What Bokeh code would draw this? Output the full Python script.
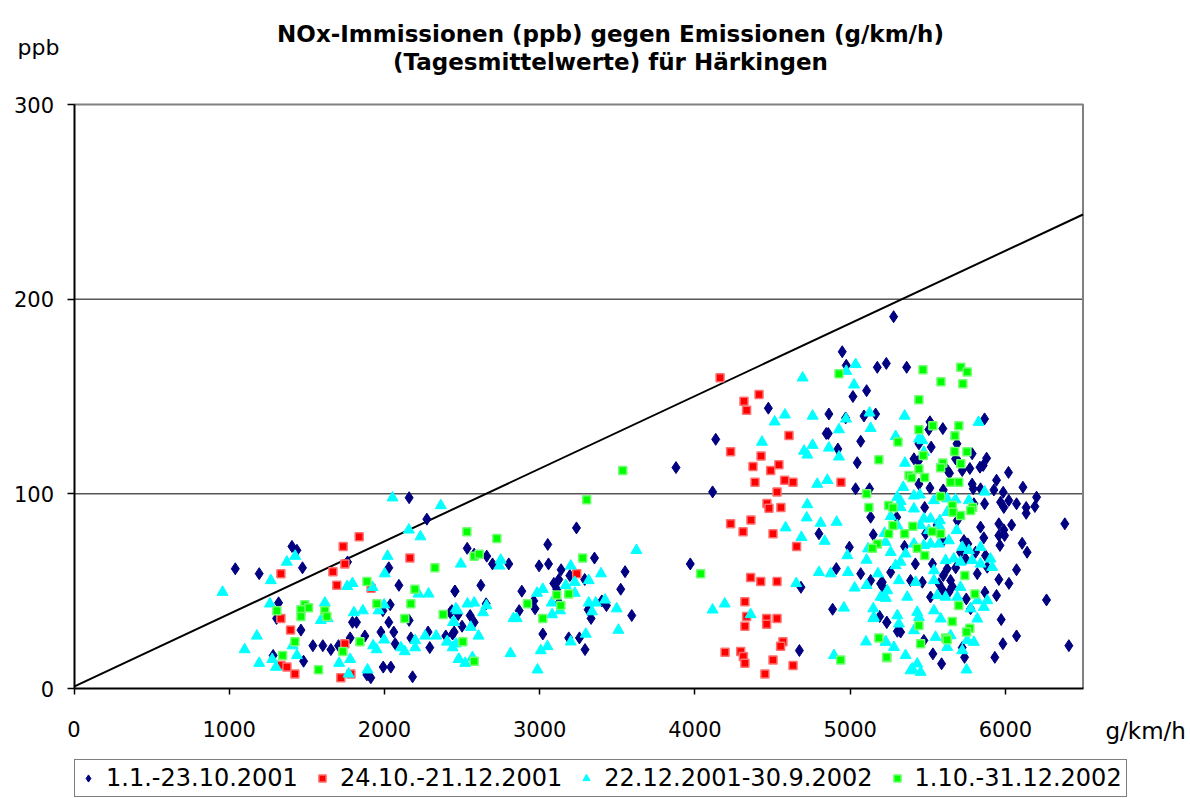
from bokeh.plotting import figure
from bokeh.models import Range1d, FixedTicker, Label, Legend, LegendItem, LinearAxis
from bokeh.embed import file_html
from bokeh.resources import INLINE

# ---------------- data (emission g/km/h, immission ppb) ----------------
series_names = ["1.1.-23.10.2001", "24.10.-21.12.2001", "22.12.2001-30.9.2002", "1.10.-31.12.2002"]

navy_pts = [
    (2159, 98), (2273, 87), (1404, 73), (1436, 71), (1472, 62), (1039, 61.5), (1193, 59), (1762, 65),
    (2028, 62), (2093, 53), (2455, 50), (1318, 44), (1305, 36), (2037, 43), (1990, 40), (2028, 34),
    (2159, 35), (1462, 30), (1794, 34), (1820, 34), (1977, 29), (2060, 29), (1874, 27), (1779, 26),
    (1539, 22), (1603, 22), (1655, 20), (2069, 23), (2170, 26), (2281, 29), (2292, 21), (2395, 27),
    (2439, 28), (1283, 17), (1479, 14), (1992, 11), (2041, 11), (1887, 7), (1912, 5.5), (2181, 6),
    (1704, 22), (2434, 40),
    (3878, 113.5), (3237, 82.5), (3052, 74), (2533, 72), (2578, 69), (2659, 68), (2696, 64), (2801, 64),
    (2996, 63), (3057, 64), (3138, 61), (3353, 67), (3194, 58), (3091, 54), (3123, 56), (3110, 51),
    (3290, 56), (3550, 60), (3522, 51), (2621, 53), (2453, 50), (2885, 50), (2962, 45), (2655, 43.5),
    (2868, 40), (2970, 41), (3125, 44), (3312, 40.5), (3331, 36), (3400, 45), (3430, 42.6), (3593, 37.5),
    (2475, 38), (2423, 39), (2552, 37.5), (2578, 34), (2500, 32), (2449, 29), (3020, 28), (3187, 26),
    (3256, 26), (3292, 20),
    (4473, 144), (4134, 128), (4114, 101), (3970, 64), (4683, 52), (4673, 19.5), (4863, 141), (4975, 166),
    (5175, 165), (5233, 167), (5106, 153), (5018, 150), (4846, 131), (4859, 131), (4921, 123), (5068, 127),
    (5046, 116), (5164, 141), (5089, 140), (4971, 139), (5035, 102.6), (5125, 102.6), (4799, 79.5),
    (4995, 72.6), (4911, 61.6), (5068, 59), (5132, 55.5), (5196, 53.8), (5211, 52), (4887, 40.7),
    (5190, 37), (5237, 34), (5304, 29.4), (5149, 79), (5132, 88), (4949, 173), (5280, 191),
    (5364, 165), (5866, 138.5), (5514, 137), (5507, 133), (5597, 133.5), (5688, 125.7), (5443, 125.7),
    (5522, 124), (5786, 120.6), (5879, 118.3), (5411, 118), (5439, 116.8), (5679, 118), (5703, 116),
    (5625, 112.3), (5640, 110.6), (5722, 112), (5771, 113), (5836, 113.7), (5857, 114.6), (6020, 111),
    (5943, 107), (5443, 105), (5514, 103), (5786, 105), (5793, 102.6), (5840, 102.6), (5926, 102),
    (5986, 100.8), (6113, 103.4), (5600, 102), (6201, 98.3), (6022, 96.6), (6072, 94.9), (5969, 95.7),
    (5990, 93), (6134, 93), (6190, 93.5), (5866, 94.9), (5797, 94.9),
    (6383, 84.6), (6265, 45.5), (6409, 22), (6072, 27), (5984, 23), (5932, 16), (5973, 35.4), (6072, 61),
    (6023, 54), (5958, 56), (5943, 47.8), (6108, 74.6), (6140, 70), (6040, 84), (5990, 81.5), (5958, 84.6),
    (5958, 78.6), (5995, 78.6), (5965, 73.5), (6134, 90), (5840, 82.9), (5861, 77.4), (5872, 68.3),
    (5883, 62.3), (5819, 59), (5868, 49.5), (5748, 46), (5776, 41), (5733, 76), (5758, 74.3), (5711, 70),
    (5808, 70), (5744, 66.6), (5647, 55.5), (5658, 52.4), (5625, 61.5), (5572, 53.8), (5518, 47),
    (5595, 50.7), (5636, 49.5), (5465, 54.6), (5235, 34), (5325, 29), (5475, 24.7), (5533, 17.8),
    (5589, 12.7), (5737, 16), (5722, 21), (5664, 91.4), (5690, 86.3), (5486, 79.5), (5389, 55.5),
    (5261, 59.7), (5207, 54.6), (5560, 84), (5600, 76), (5530, 64), (5680, 62), (5600, 58), (5420, 64),
    (5350, 73), (5480, 93), (5300, 88),
]

red_pts = [
    (1837, 78), (1734, 73), (1745, 64), (1668, 60), (2164, 67), (1333, 59), (1693, 53), (1914, 51.5),
    (1333, 36), (1395, 30), (1745, 23), (1333, 12), (1372, 11), (1423, 7.5), (1719, 5.5), (1784, 7.5),
    (3239, 59),
    (4162, 159.6), (4413, 151), (4316, 147.6), (4333, 143), (4606, 130), (4230, 121.6), (4426, 119.4),
    (4374, 114), (4488, 112), (4541, 115), (4387, 106), (4578, 107), (4632, 106), (4941, 106), (4529, 101),
    (4464, 95), (4477, 92.6), (4554, 93), (4230, 84.6), (4361, 86.5), (4310, 80.5), (4503, 79.5),
    (4655, 73), (4359, 57), (4424, 55), (4529, 55), (4322, 44.5), (4333, 37), (4322, 32), (4462, 36),
    (4462, 33), (4529, 36), (4567, 24), (4552, 21.7), (4194, 18.6), (4295, 19), (4312, 16.4), (4322, 13),
    (4503, 14.7), (4632, 11.8), (4451, 7.5),
]

cyan_pts = [
    (2052, 98), (2363, 94), (2157, 81.5), (2232, 78), (1425, 68), (1371, 65), (2020, 68), (2002, 59),
    (1268, 55.5), (957, 49.5), (1794, 54), (1760, 52.5), (1923, 52), (2219, 48.6), (2284, 48.6),
    (1262, 43.5), (1616, 44), (1803, 39), (1861, 40), (1590, 35), (1634, 36), (1962, 40), (1998, 43),
    (2442, 34), (2470, 40), (1178, 27), (1099, 20), (1408, 22), (1436, 17), (1193, 13), (1277, 15),
    (1301, 11), (1708, 13), (1779, 15), (1769, 7.5), (1891, 9.6), (1927, 22), (1949, 20), (1998, 25),
    (2106, 21), (2131, 19), (2198, 24.7), (2198, 21), (2262, 27), (2333, 27), (2402, 24), (2439, 21),
    (2477, 15),
    (3623, 71), (2492, 64), (2749, 66), (2741, 63), (3200, 63), (3395, 59), (3316, 55.5), (3226, 54.6),
    (3168, 53), (3226, 49), (3020, 51), (2983, 49), (3078, 44), (3080, 38), (3131, 40), (3361, 44),
    (3316, 44), (3421, 45.5), (3337, 39.5), (3496, 41), (2535, 43.5), (2578, 44), (2635, 39), (2657, 42.6),
    (2460, 41), (2449, 34), (2556, 31.5), (2606, 27), (2831, 36), (2852, 36), (2406, 24), (2460, 23),
    (3297, 28), (3200, 24), (3507, 30), (3007, 19.5), (3050, 21.6), (2812, 18), (2481, 15), (2520, 13),
    (2567, 16), (2986, 9.6),
    (4694, 159.6), (4975, 163), (5035, 166.5), (5025, 156), (4514, 137), (4580, 140.6), (4758, 140),
    (4973, 138.5), (5125, 141.6), (5132, 133.7), (4928, 133), (4432, 126.6), (4703, 122), (4724, 120),
    (4758, 125), (4863, 123.6), (4928, 119), (5293, 129.5), (4788, 105), (4853, 107), (4724, 94.5),
    (4584, 82.6), (4720, 87.7), (4810, 85), (4913, 85.5), (4686, 77.7), (4836, 75.7), (4982, 68.3),
    (5115, 71.8), (5106, 66), (4799, 59.7), (4874, 59), (4986, 59.7), (4653, 54), (5029, 51.7), (5106, 53),
    (5179, 59), (5196, 47), (5230, 46.4), (4359, 38), (4192, 43.5), (4114, 40.4), (4960, 41.4), (5149, 41),
    (5149, 36), (5102, 24), (5230, 24), (4896, 17),
    (5351, 140), (5827, 136.8), (5443, 128.3), (5465, 127.4), (5353, 115.8), (5475, 121.4), (5342, 103.4),
    (5411, 99), (5449, 99.5), (5540, 96.6), (5625, 97.5), (5679, 97), (5866, 101), (5765, 96.6),
    (5304, 98.3), (5325, 96.2),
    (5261, 88.4), (5325, 93), (5411, 92.3), (5475, 87.2), (5518, 87.2), (5578, 86.3), (5625, 90.5),
    (5454, 83.7), (5507, 81.2), (5572, 83.7), (5686, 81.2), (5304, 83.7), (5222, 79.8), (5228, 75.2),
    (5411, 74.3), (5475, 73.5), (5518, 74.3), (5572, 74.3), (5636, 76), (5261, 70), (5357, 69.2),
    (5722, 72.6), (5765, 71), (5840, 72.6), (5615, 65.8), (5668, 66.6), (5711, 65), (5786, 65.8),
    (5840, 64), (5904, 66.6), (5915, 62.3), (5293, 63.2), (5325, 65), (5540, 60.6), (5540, 55.5),
    (5422, 54.6), (5314, 55.5), (5239, 50.3), (5711, 52), (5690, 47), (5819, 45.2), (5861, 41.8),
    (5883, 45.2), (5561, 47.8), (5615, 47), (5368, 47), (5217, 47), (5432, 39.2), (5443, 36.6),
    (5540, 40), (5583, 35.8), (5304, 37.5), (5314, 33.2), (5776, 41), (5819, 35.8), (5411, 29.8),
    (5647, 27.2), (5550, 26.4), (5625, 21.2), (5754, 24.7), (5797, 23.8), (5228, 23.8), (5282, 21.2),
    (5357, 17), (5432, 12.7), (5400, 10.1), (5454, 8.4), (5722, 19.5), (5750, 9.6), (5153, 36.6),
    (5389, 9.2),
]

green_pts = [
    (2325, 62), (1887, 55), (2196, 51), (1951, 43.5), (2170, 43.5), (1487, 43), (1511, 41.5), (1307, 40),
    (1462, 40.4), (1462, 37), (1616, 40), (1629, 37), (2131, 36), (2378, 38), (1423, 24), (1842, 24),
    (1732, 19), (1344, 17), (1575, 9.6),
    (3535, 112), (3303, 97), (2531, 80.5), (2724, 77), (2578, 68), (2610, 69), (3277, 67), (3110, 48),
    (3187, 48.6), (3136, 42.6), (2921, 43.5), (3020, 36), (2505, 24), (2578, 14),
    (4928, 161.7), (5308, 126.6), (5185, 117.5), (5106, 100), (5121, 93), (5248, 94), (5276, 92.8),
    (5276, 83.7), (5248, 79.5), (5175, 74.2), (5143, 72), (4037, 59), (5185, 26), (5237, 15.8),
    (4939, 14.7),
    (5469, 163.7), (5713, 165), (5754, 162.6), (5585, 157.6), (5726, 156.5), (5443, 148.3), (5533, 135),
    (5700, 135), (5675, 129.8), (5443, 132.9), (5673, 121.7), (5752, 121.6), (5471, 119.7), (5597, 115.8),
    (5713, 115.4), (5583, 113.4), (5443, 112.7), (5379, 109.4), (5396, 108.2), (5480, 108.4), (5647, 106),
    (5700, 106), (5583, 98.6), (5658, 94), (5789, 93),
    (5662, 90.6), (5711, 88.9), (5776, 91.4), (5404, 83.4), (5351, 79.5), (5529, 80.6), (5583, 79.5),
    (5432, 72.1), (5481, 68.3), (5739, 58), (5804, 48.6), (5700, 42.6), (5658, 34.4), (5771, 31),
    (5750, 29), (5443, 32.4), (5615, 26), (5625, 25), (5454, 23), (5235, 16),
]

# reference line (emission -> immission)
line_x = [0, 6500]
line_y = [1, 243.5]

x_min, x_max = 0, 6500
y_min, y_max = 0, 300
x_ticks = [0, 1000, 2000, 3000, 4000, 5000, 6000]
y_ticks = [0, 100, 200, 300]
y_grid = [100, 200]

title_lines = ["NOx-Immissionen (ppb) gegen Emissionen (g/km/h)", "(Tagesmittelwerte) für Härkingen"]
y_unit = "ppb"
x_unit = "g/km/h"

# ---------------- figure ----------------
FONT = "DejaVu Sans"
W, H = 1190, 798
# plot area in canvas pixels: x 73.5..1082.5, y 104..688
PX0, PX1, PY0, PY1 = 73.5, 1082.5, 688.0, 104.0
ux = (x_max - x_min) / (PX1 - PX0)
uy = (y_max - y_min) / (PY0 - PY1)

p = figure(width=W, height=H,
           x_range=Range1d(x_min - PX0 * ux, x_max + (W - PX1) * ux),
           y_range=Range1d(y_min - (H - PY0) * uy, y_max + PY1 * uy),
           x_axis_location=None, y_axis_location=None,
           output_backend="svg", toolbar_location=None,
           min_border=0, min_border_left=0, min_border_right=0, min_border_top=0, min_border_bottom=0)
p.background_fill_color = "white"
p.border_fill_color = "white"
p.outline_line_color = None
p.grid.visible = False

# horizontal gridlines
p.segment(x0=[x_min] * len(y_grid), y0=y_grid, x1=[x_max] * len(y_grid), y1=y_grid,
          line_color="black", line_width=1)
# grey plot-area border (top and right)
p.line([x_min, x_max, x_max], [y_max, y_max, y_min], line_color="#808080", line_width=2)

# axes through the origin
yax = LinearAxis(fixed_location=x_min, bounds=(y_min, y_max), ticker=FixedTicker(ticks=y_ticks))
xax = LinearAxis(fixed_location=y_min, bounds=(x_min, x_max), ticker=FixedTicker(ticks=x_ticks))
for ax in (xax, yax):
    ax.axis_line_color = "black"
    ax.axis_line_width = 2
    ax.major_tick_line_color = "black"
    ax.major_tick_line_width = 1.5
    ax.major_tick_in = 0
    ax.minor_tick_line_color = None
    ax.major_label_text_font = FONT
    ax.major_label_text_font_size = "21px"
    ax.major_label_text_color = "black"
yax.major_tick_out = 7
xax.major_tick_out = 6
yax.major_label_standoff = 13
xax.major_label_standoff = 26
p.add_layout(yax, "left")
p.add_layout(xax, "below")

p.line(line_x, line_y, line_color="black", line_width=2)

def xs(pts):
    return [a for a, b in pts]

def ys(pts):
    return [b for a, b in pts]

r_navy = p.scatter(xs(navy_pts), ys(navy_pts), marker="diamond", size=12,
                   fill_color="#000080", line_color="#000080", line_width=1)
r_red = p.scatter(xs(red_pts), ys(red_pts), marker="square", size=8,
                  fill_color="#FF0000", line_color="#FF7070", line_width=1.5)
r_cyan = p.scatter(xs(cyan_pts), ys(cyan_pts), marker="triangle", size=11,
                   fill_color="#00FFFF", line_color="#00FFFF", line_width=1)
r_green = p.scatter(xs(green_pts), ys(green_pts), marker="square", size=8,
                    fill_color="#00FF00", line_color="#70FF70", line_width=1.5)

# titles and unit labels (positions in data units of this full-canvas frame)
title_x = x_min + (610 - PX0) * ux
p.add_layout(Label(x=title_x, y=y_min + (PY0 - 33) * uy, text=title_lines[0], text_align="center",
                   text_baseline="alphabetic", text_font=FONT, text_font_size="23px",
                   text_font_style="bold", text_color="black"))
p.add_layout(Label(x=title_x, y=y_min + (PY0 - 61) * uy, text=title_lines[1], text_align="center",
                   text_baseline="alphabetic", text_font=FONT, text_font_size="23px",
                   text_font_style="bold", text_color="black"))
p.add_layout(Label(x=x_min + (17 - PX0) * ux, y=y_min + (PY0 - 47) * uy, text=y_unit, text_align="left",
                   text_baseline="alphabetic", text_font=FONT, text_font_size="22px", text_color="black"))
p.add_layout(Label(x=x_min + (1105 - PX0) * ux, y=y_min + (PY0 - 730) * uy, text=x_unit, text_align="left",
                   text_baseline="alphabetic", text_font=FONT, text_font_size="23px", text_color="black"))

legend = Legend(items=[LegendItem(label=series_names[0], renderers=[r_navy]),
                       LegendItem(label=series_names[1], renderers=[r_red]),
                       LegendItem(label=series_names[2], renderers=[r_cyan]),
                       LegendItem(label=series_names[3], renderers=[r_green])],
                orientation="horizontal", location=(74, 1))
legend.label_text_font = FONT
legend.label_text_font_size = "24px"
legend.label_text_color = "black"
legend.border_line_color = "black"
legend.border_line_width = 1.5
legend.background_fill_color = "white"
legend.background_fill_alpha = 1
legend.padding = 4
legend.margin = 0
legend.spacing = 15
legend.glyph_width = 18
legend.glyph_height = 18
legend.label_standoff = 9
p.add_layout(legend)

open("out.html", "w").write(file_html(p, INLINE))
